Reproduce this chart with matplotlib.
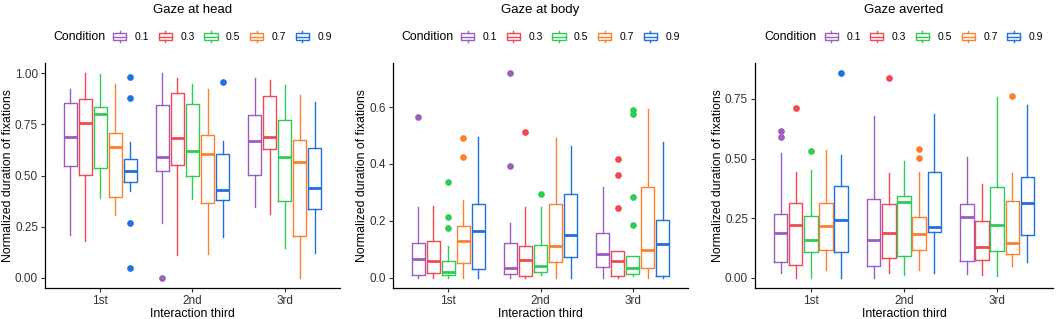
import numpy as np
import matplotlib
matplotlib.use("Agg")
import matplotlib.pyplot as plt
from matplotlib.legend_handler import HandlerBase
from matplotlib.lines import Line2D
from matplotlib.patches import Rectangle

plt.rcParams['font.family'] = ['Liberation Sans', 'DejaVu Sans']

thirds = ['1st', '2nd', '3rd']
conditions = ['0.1', '0.3', '0.5', '0.7', '0.9']
colors = ['#9D5CC0', '#F5474F', '#2ECC55', '#FF7F2A', '#1F6FE5']

# rows = interaction third, columns = condition
head_q1 = [[0.548, 0.502, 0.536, 0.397, 0.470],
           [0.520, 0.549, 0.500, 0.364, 0.380],
           [0.503, 0.630, 0.377, 0.205, 0.334]]
head_med = [[0.690, 0.757, 0.800, 0.641, 0.523],
            [0.589, 0.685, 0.620, 0.605, 0.428],
            [0.670, 0.687, 0.589, 0.564, 0.441]]
head_q3 = [[0.856, 0.875, 0.834, 0.708, 0.580],
           [0.844, 0.905, 0.848, 0.697, 0.605],
           [0.798, 0.889, 0.769, 0.675, 0.634]]
head_lo = [[0.211, 0.179, 0.389, 0.307, 0.425],
           [0.269, 0.110, 0.385, 0.115, 0.200],
           [0.348, 0.310, 0.146, 0.000, 0.121]]
head_hi = [[0.921, 1.000, 0.995, 0.946, 0.664],
           [1.000, 0.979, 0.946, 0.925, 0.667],
           [0.975, 0.967, 0.943, 0.892, 0.861]]
head_out = [[[], [], [], [], [0.984, 0.880, 0.270, 0.049]],
            [[0.0], [], [], [], [0.957]],
            [[], [], [], [], []]]

body_q1 = [[0.011, 0.018, 0.008, 0.053, 0.032],
           [0.014, 0.007, 0.019, 0.056, 0.072],
           [0.038, 0.005, 0.014, 0.034, 0.006]]
body_med = [[0.067, 0.060, 0.022, 0.131, 0.164],
            [0.034, 0.064, 0.042, 0.113, 0.152],
            [0.082, 0.058, 0.035, 0.096, 0.120]]
body_q3 = [[0.122, 0.128, 0.059, 0.182, 0.258],
           [0.121, 0.112, 0.116, 0.261, 0.295],
           [0.156, 0.094, 0.076, 0.320, 0.202]]
body_lo = [[0.0, 0.0, 0.0, 0.0, 0.0],
           [0.0, 0.0, 0.010, 0.0, 0.0],
           [0.0, 0.0, 0.005, 0.0, 0.0]]
body_hi = [[0.249, 0.254, 0.112, 0.273, 0.496],
           [0.191, 0.249, 0.249, 0.493, 0.464],
           [0.320, 0.094, 0.076, 0.593, 0.476]]
body_out = [[[0.565], [], [0.336, 0.212, 0.175], [0.491, 0.425], []],
            [[0.719, 0.394], [0.513], [0.296], [], []],
            [[], [0.416, 0.362, 0.247], [0.588, 0.576, 0.285, 0.185], [], []]]

av_q1 = [[0.067, 0.052, 0.110, 0.115, 0.108],
         [0.048, 0.083, 0.093, 0.115, 0.191],
         [0.069, 0.073, 0.114, 0.101, 0.178]]
av_med = [[0.187, 0.223, 0.160, 0.216, 0.242],
          [0.157, 0.187, 0.316, 0.184, 0.213],
          [0.256, 0.128, 0.221, 0.147, 0.312]]
av_q3 = [[0.267, 0.312, 0.258, 0.312, 0.385],
         [0.331, 0.309, 0.343, 0.253, 0.444],
         [0.308, 0.239, 0.382, 0.323, 0.424]]
av_lo = [[0.022, 0.0, 0.0, 0.031, 0.0],
         [0.0, 0.020, 0.010, 0.031, 0.021],
         [0.017, 0.010, 0.006, 0.048, 0.066]]
av_hi = [[0.522, 0.442, 0.452, 0.537, 0.513],
         [0.680, 0.440, 0.490, 0.442, 0.688],
         [0.508, 0.392, 0.758, 0.438, 0.726]]
av_out = [[[0.614, 0.590], [0.713], [0.532], [], [0.858]],
          [[], [0.836], [], [0.541, 0.501], []],
          [[], [], [], [0.761], []]]

panels = [
    ('Gaze at head', head_q1, head_med, head_q3, head_lo, head_hi, head_out,
     [0, 0.25, 0.5, 0.75, 1.0], '%.2f'),
    ('Gaze at body', body_q1, body_med, body_q3, body_lo, body_hi, body_out,
     [0, 0.2, 0.4, 0.6], '%.1f'),
    ('Gaze averted', av_q1, av_med, av_q3, av_lo, av_hi, av_out,
     [0, 0.25, 0.5, 0.75], '%.2f'),
]


class BoxKey(HandlerBase):
    # small boxplot glyph like ggplot's legend key
    def create_artists(self, legend, orig_handle, xdescent, ydescent,
                       width, height, fontsize, trans):
        c = orig_handle.get_color()
        x0, y0 = -xdescent, -ydescent
        bw, bh = width * 0.9, height * 0.7
        bx = x0 + (width - bw) / 2
        by = y0 + (height - bh) / 2
        cx = x0 + width / 2
        rect = Rectangle((bx, by), bw, bh, fill=False, ec=c, lw=1.0, transform=trans)
        med = Line2D([bx, bx + bw], [by + bh / 2] * 2, color=c, lw=1.0, transform=trans)
        w1 = Line2D([cx, cx], [y0 - height * 0.05, by], color=c, lw=1.0, transform=trans)
        w2 = Line2D([cx, cx], [by + bh, y0 + height * 1.05], color=c, lw=1.0, transform=trans)
        return [rect, med, w1, w2]


fig = plt.figure(figsize=(10.59, 3.19), dpi=100)
ax_rects = [(45, 295), (393, 295), (755, 298)]
W, H = 1059, 319
axes = []
for (left, width) in ax_rects:
    axes.append(fig.add_axes([left / W, 1 - 288 / H, width / W, 225 / H]))

dodge = 0.163
box_w = 0.145
tick_col = '#333333'

for ax, (title, q1, med, q3, lo, hi, out, yticks, fmt) in zip(axes, panels):
    top = 0
    for j, c in enumerate(colors):
        stats = []
        for i in range(len(thirds)):
            stats.append(dict(q1=q1[i][j], med=med[i][j], q3=q3[i][j],
                              whislo=lo[i][j], whishi=hi[i][j],
                              fliers=np.array(out[i][j])))
            top = max(top, hi[i][j], max(out[i][j], default=0))
        pos = np.arange(1, len(thirds) + 1) + (j - 2) * dodge
        ax.bxp(stats, positions=pos, widths=box_w, showcaps=False,
               manage_ticks=False,
               boxprops=dict(color=c, lw=1.0),
               whiskerprops=dict(color=c, lw=1.0),
               medianprops=dict(color=c, lw=2.0, solid_capstyle='butt'),
               flierprops=dict(marker='o', mfc=c, mec=c, ms=3.8, lw=0))
    ax.set_xlim(0.4, len(thirds) + 0.6)
    ax.set_ylim(-0.05 * top, top * 1.05)
    ax.set_xticks(np.arange(1, len(thirds) + 1))
    ax.set_xticklabels(thirds)
    ax.set_yticks(yticks)
    ax.set_yticklabels([fmt % v for v in yticks])
    for s in ['top', 'right']:
        ax.spines[s].set_visible(False)
    for s in ['left', 'bottom']:
        ax.spines[s].set_linewidth(0.9)
        ax.spines[s].set_color('black')
    ax.tick_params(length=3, width=0.8, color=tick_col, labelcolor=tick_col,
                   labelsize=8.5, pad=2)
    ax.set_xlabel('Interaction third', fontsize=8.8, labelpad=1)
    ax.set_ylabel('Normalized duration of fixations', fontsize=8.8, labelpad=1)
    ax.set_title(title, fontsize=9.5, y=1 + 53 / 225, va='center', pad=0)

# legends: "Condition" label followed by keys, centred over each panel
handles = [Line2D([], [], color=c) for c in colors]
fig.canvas.draw()
r = fig.canvas.get_renderer()
leg_y = 1 + 26 / 225
for ax in axes:
    leg = ax.legend(handles, conditions, ncol=5, loc='center',
                    bbox_to_anchor=(0.5, leg_y), frameon=False,
                    handler_map={Line2D: BoxKey()}, fontsize=7.5,
                    handlelength=1.4, handleheight=1.1, handletextpad=0.75,
                    columnspacing=0.85, borderpad=0, borderaxespad=0)
    t = ax.text(0, leg_y, 'Condition', transform=ax.transAxes, fontsize=8.8,
                ha='left', va='center')
    fig.canvas.draw()
    wl = leg.get_window_extent(r).width
    wt = t.get_window_extent(r).width
    gap = 7
    bb = ax.get_window_extent(r)
    cx = bb.x0 + bb.width / 2
    start = cx - (wt + gap + wl) / 2
    t.set_x((start - bb.x0) / bb.width)
    lc = start + wt + gap + wl / 2
    leg.set_bbox_to_anchor(((lc - bb.x0) / bb.width, leg_y), transform=ax.transAxes)

fig.savefig('out.png', dpi=100)
